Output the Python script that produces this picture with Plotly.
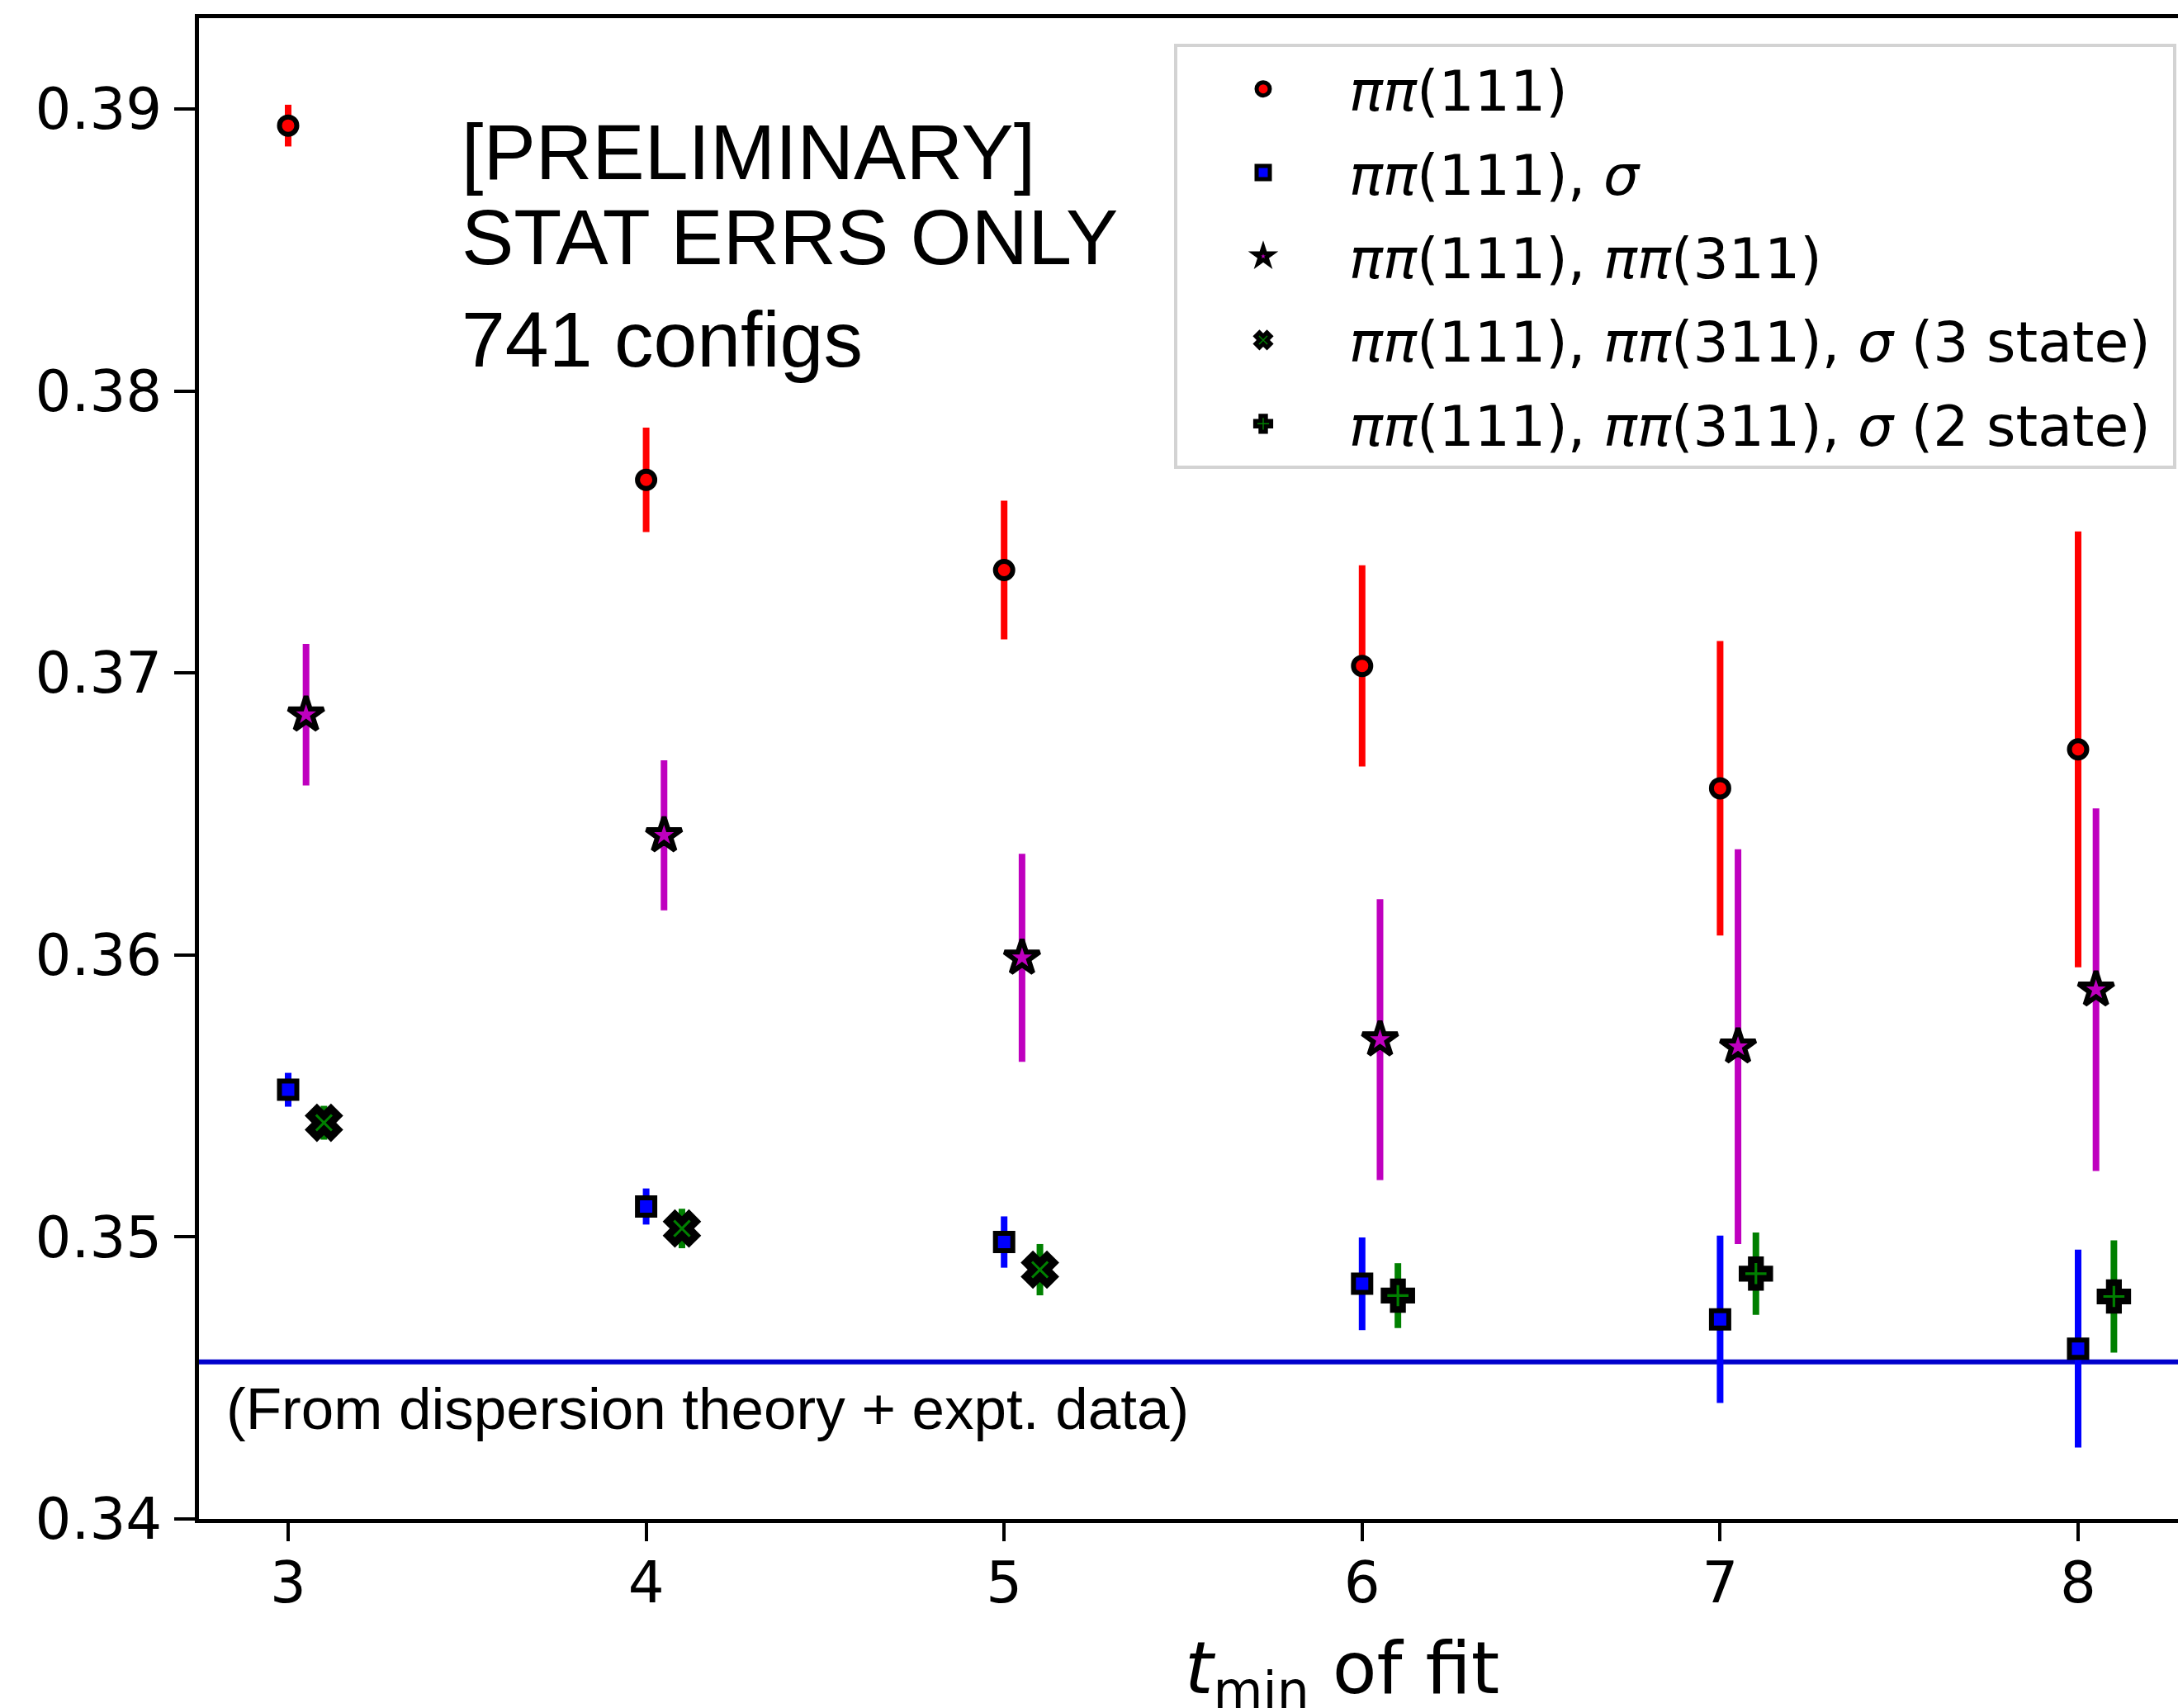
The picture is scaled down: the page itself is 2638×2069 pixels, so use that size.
import plotly.graph_objects as go

# ---------------- data ----------------
tmin = [3, 4, 5, 6, 7, 8]

pipi111 = [0.38941, 0.37685, 0.37365, 0.37025, 0.36591, 0.36729]
pipi111_err = [0.00074, 0.00185, 0.00246, 0.00357, 0.00522, 0.00773]

pipi111_sigma = [0.35522, 0.35108, 0.34982, 0.34834, 0.34708, 0.34604]
pipi111_sigma_err = [0.00060, 0.00064, 0.00091, 0.00164, 0.00297, 0.00351]

x_pipi111_311 = [3.05, 4.05, 5.05, 6.05, 7.05, 8.05]
pipi111_311 = [0.36852, 0.36424, 0.35990, 0.35700, 0.35675, 0.35877]
pipi111_311_err = [0.00251, 0.00266, 0.00369, 0.00498, 0.00700, 0.00643]

x_3state = [3.1, 4.1, 5.1]
state3 = [0.35405, 0.35030, 0.34884]
state3_err = [0.00060, 0.00070, 0.00091]

x_2state = [6.1, 7.1, 8.1]
state2 = [0.34792, 0.34870, 0.34789]
state2_err = [0.00115, 0.00146, 0.00199]

dispersion_value = 0.34557

y_ticks = [0.34, 0.35, 0.36, 0.37, 0.38, 0.39]
y_ticklabels = ["0.34", "0.35", "0.36", "0.37", "0.38", "0.39"]

names = [
    "<i>ππ</i>(111)",
    "<i>ππ</i>(111), <i>σ</i>",
    "<i>ππ</i>(111), <i>ππ</i>(311)",
    "<i>ππ</i>(111), <i>ππ</i>(311), <i>σ</i> (3 state)&nbsp;",
    "<i>ππ</i>(111), <i>ππ</i>(311), <i>σ</i> (2 state)&nbsp;",
]

# ---------------- figure ----------------
W, H = 2638, 2069
L, R, T, B = 241, 0, 22, 229
DJ = "DejaVu Sans"
LIB = "Liberation Sans, Arial, sans-serif"

fig = go.Figure()

series = [
    (tmin, pipi111, pipi111_err, "#ff0000", "circle", 21, 6),
    (tmin, pipi111_sigma, pipi111_sigma_err, "#0000ff", "square", 21, 6),
    (x_pipi111_311, pipi111_311, pipi111_311_err, "#bf00bf", "star", 32, 6),
    (x_3state, state3, state3_err, "#008000", "x", 30, 9),
    (x_2state, state2, state2_err, "#008000", "cross", 28, 8),
]

for i, (xs, ys, es, col, sym, sz, lw) in enumerate(series):
    fig.add_trace(go.Scatter(
        x=xs, y=ys, mode="markers", name=names[i],
        legendgroup=f"g{i}",
        marker=dict(symbol=sym, size=sz, color=col,
                    line=dict(color="black", width=lw)),
        error_y=dict(type="data", array=es, visible=True,
                     color=col, thickness=8, width=0),
    ))

# reference line
fig.add_hline(y=dispersion_value, line=dict(color="#0000cc", width=6), layer="below")

pw = W - L - R
ph = H - T - B

def px_x(x):
    return (x - L) / pw

def px_y(y):
    return (H - B - y) / ph

annots = [
    dict(text="[PRELIMINARY]", x=px_x(557), y=px_y(184), size=95, fam=LIB),
    dict(text="STAT ERRS ONLY", x=px_x(557), y=px_y(287), size=95, fam=LIB),
    dict(text="741 configs", x=px_x(557), y=px_y(411), size=95, fam=LIB),
    dict(text="(From dispersion theory + expt. data)", x=px_x(272), y=px_y(1706), size=71, fam=LIB),
]
for a in annots:
    fig.add_annotation(text=a["text"], xref="paper", yref="paper",
                       x=a["x"], y=a["y"], xanchor="left", yanchor="middle",
                       showarrow=False,
                       font=dict(family=a["fam"], size=a["size"], color="black"))

# x axis title (placed to match the cropped original)
fig.add_annotation(text="<i>t</i><sub>min</sub> of fit", xref="paper", yref="paper",
                   x=px_x(1625), y=px_y(2027), xanchor="center", yanchor="middle",
                   showarrow=False, font=dict(family=DJ, size=88, color="black"))

x0 = 3 - 108 / 433.6
fig.update_xaxes(
    range=[x0, x0 + pw / 433.6],
    tickvals=tmin, ticktext=[str(v) for v in tmin],
    showline=True, linecolor="black", linewidth=5, mirror=True,
    ticks="outside", ticklen=22, tickwidth=4, tickcolor="black",
    showgrid=False, zeroline=False, automargin=False,
    tickfont=dict(family=DJ, size=69, color="black"),
    ticklabelstandoff=-9,
)
fig.update_yaxes(
    range=[0.34, 0.39322],
    tickvals=y_ticks, ticktext=y_ticklabels,
    showline=True, linecolor="black", linewidth=5, mirror=False,
    ticks="outside", ticklen=25, tickwidth=4, tickcolor="black",
    showgrid=False, zeroline=False, automargin=False,
    tickfont=dict(family=DJ, size=69, color="black"),
    ticklabelstandoff=1,
)

fig.update_layout(
    width=W, height=H,
    margin=dict(l=L, r=R, t=T, b=B, pad=0, autoexpand=False),
    plot_bgcolor="white", paper_bgcolor="white",
    showlegend=True,
    legend=dict(
        x=px_x(1422), y=px_y(53), xanchor="left", yanchor="top",
        bgcolor="white", bordercolor="#d3d3d3", borderwidth=4,
        font=dict(family=DJ, size=68, color="black"),
        itemwidth=198, tracegroupgap=10, traceorder="grouped",
    ),
)

fig.write_html("out.html", config={"displayModeBar": False},
               post_script="document.body.style.margin='0px';")
